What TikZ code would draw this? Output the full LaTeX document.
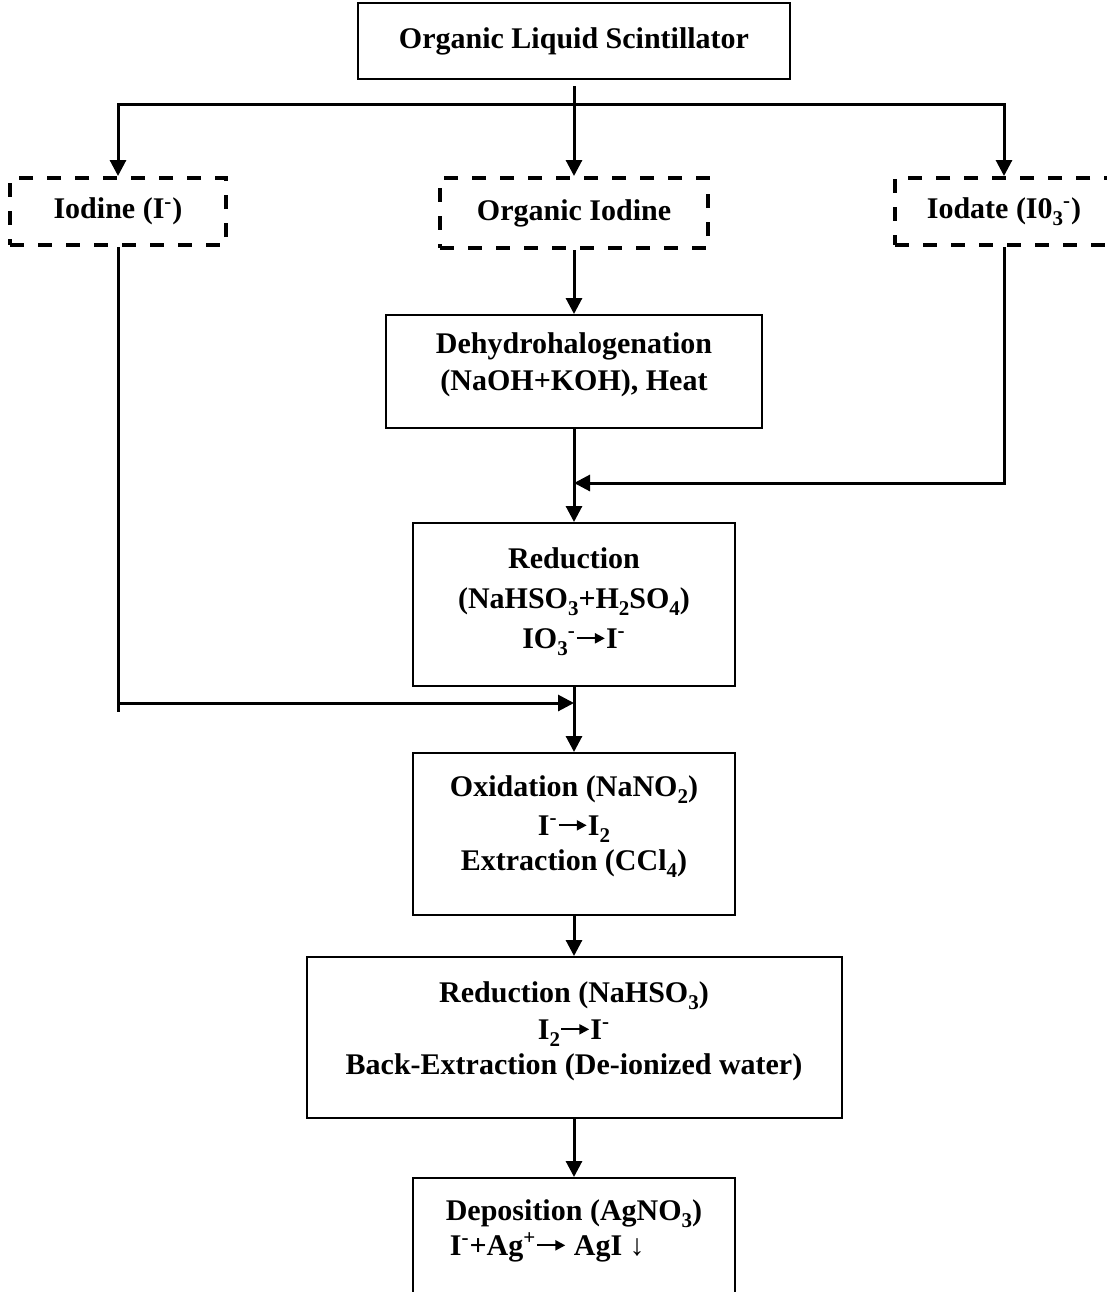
\documentclass[tikz,border=0pt]{standalone}
\usepackage{fontspec}
\setmainfont{Liberation Serif}
\usetikzlibrary{positioning,arrows.meta}

\newcommand{\lowx}[1]{\raisebox{-0.5ex}{\fontsize{10.5}{10.5}\selectfont #1}}
\newcommand{\rarr}{\tikz[baseline=-0.33em]\draw[line width=1.1pt,-{Triangle[length=5pt,width=5pt]}] (0pt,0pt) -- (14pt,0pt);}

\begin{document}
\begin{tikzpicture}[x=0.5pt,y=-0.5pt]
\tikzstyle{box} = [draw,line width=1pt,inner sep=0pt]
\tikzstyle{dbox} = [draw,line width=2pt,dash pattern=on 7pt off 7pt,inner sep=0pt]
\tikzstyle{txt} = [inner sep=0pt,align=center,font=\bfseries\fontsize{15}{17.5}\selectfont]
\tikzstyle{line} = [line width=1.5pt]
\tikzstyle{arrow} = [line width=1.5pt,-{Triangle[length=8pt,width=8pt]}]

\useasboundingbox (0,0) rectangle (1107,1292);

% nodes
\node[box,txt,minimum width=216pt,minimum height=38pt] (ols) at (574,41) {Organic Liquid Scintillator};
\node[dbox,txt,minimum width=108pt,minimum height=33.5pt] (iod) at (118,211.5) {Iodine (I\textsuperscript{-})};
\node[dbox,txt,minimum width=134pt,minimum height=35pt] (orgi) at (574,213) {Organic Iodine};
\node[dbox,txt,minimum width=109pt,minimum height=33.5pt] (iodate) at (1004,211.5) {Iodate (I0\lowx{3}\textsuperscript{-})};

\node[box,minimum width=188pt,minimum height=56.5pt] (dehy) at (574,371.5) {};
\node[txt,below=9pt of dehy.north] (dehyt) {Dehydrohalogenation\\[1pt](NaOH+KOH), Heat};

\node[box,minimum width=161pt,minimum height=81.5pt] (red1) at (574,604.5) {};
\node[txt,below=12.5pt of red1.north] (red1t) {Reduction\\[2.5pt](NaHSO\lowx{3}+H\lowx{2}SO\lowx{4})\\[2.5pt]IO\lowx{3}\textsuperscript{-}\rarr I\textsuperscript{-}};

\node[box,minimum width=161pt,minimum height=81pt] (oxid) at (574,834) {};
\node[txt,below=11.5pt of oxid.north] (oxidt) {Oxidation (NaNO\lowx{2})\\[2pt]I\textsuperscript{-}\rarr I\lowx{2}\\Extraction (CCl\lowx{4})};

\node[box,minimum width=267.5pt,minimum height=80.5pt] (red2) at (574,1037.5) {};
\node[txt,below=12.5pt of red2.north] (red2t) {Reduction (NaHSO\lowx{3})\\[1pt]I\lowx{2}\rarr I\textsuperscript{-}\\Back-Extraction (De-ionized water)};

\node[box,minimum width=161pt,minimum height=80pt] (dep) at (574,1258) {};
\node[txt,align=left,below=11pt of dep.north] (dept) {Deposition (AgNO\lowx{3})\\\hspace*{2pt}I\textsuperscript{-}+Ag\textsuperscript{+}\rarr\ AgI ↓};

% arrows
\coordinate (split) at (574,104);
\draw[line] ([yshift=-3pt]ols.south) -- (split);
\draw[line,line cap=rect] (iod.north |- split) -- (iodate.north |- split);
\draw[arrow] (iod.north |- split) -- (iod.north);
\draw[arrow] (split) -- (orgi.north);
\draw[arrow] (iodate.north |- split) -- (iodate.north);

\draw[arrow] (orgi.south) -- (dehy.north);
\draw[arrow] (dehy.south) -- (red1.north);

\coordinate (iojoin) at (1004,483);
\draw[arrow] (iodate.south) |- (dehy.south |- iojoin);

\coordinate (ijoin) at (118,703);
\draw[line] (iod.south) -- ([yshift=-4.5pt]iod.south |- ijoin);
\draw[arrow] (iod.south |- ijoin) -- (red1.south |- ijoin);

\draw[arrow] (red1.south) -- (oxid.north);
\draw[arrow] (oxid.south) -- (red2.north);
\draw[arrow] (red2.south) -- (dep.north);

\end{tikzpicture}
\end{document}
